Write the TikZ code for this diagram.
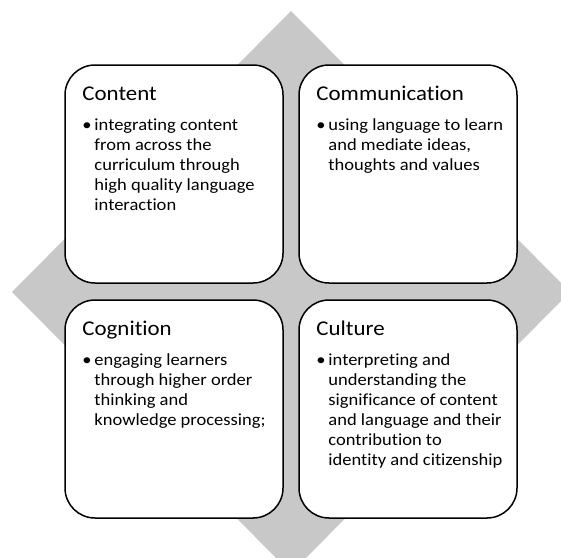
\documentclass[tikz,border=0pt]{standalone}
\usepackage{fontspec}
\setmainfont{Carlito}[FakeStretch=1.09, RawFeature=-liga]
\definecolor{diamondgrey}{RGB}{200,200,200}
\tikzset{
  card/.style={draw=black, line width=1.5pt, fill=white, rounded corners=30pt,
    minimum width=218pt, minimum height=218pt, inner sep=0pt},
  cardtitle/.style={anchor=base west, inner sep=0pt, font=\fontsize{21}{24}\selectfont},
  % multi-line text: base is the baseline of its last line (20pt per line)
  cardtext/.style={anchor=base west, inner sep=0pt, align=left, font=\fontsize{17}{20}\selectfont},
}
\begin{document}
\begin{tikzpicture}[x=1pt, y=-1pt]
\useasboundingbox (0,0) rectangle (561,557);
\begin{scope}
  \clip (0,0) rectangle (561,557);
  \fill[diamondgrey] (291,11) -- (570,292) -- (291,573) -- (12,292) -- cycle;
\end{scope}

%%%%%%%%%%%%%%%%%%%%%%%%%%%%%%%%%%%%%%%%

\node[card] (content) at (174,174) {};
\node[cardtitle] (content-title) at ([shift={(18pt,-36pt)}]content.north west) {Content};
\node[cardtext] (content-dot) at ([shift={(18pt,-66pt)}]content.north west) {\textbullet};
\node[cardtext] (content-text) at ([shift={(30pt,-146pt)}]content.north west)
  {integrating content\\from across the\\curriculum through\\high quality language\\interaction};

\node[card] (communication) at (408,174) {};
\node[cardtitle] (communication-title) at ([shift={(18pt,-36pt)}]communication.north west) {Communication};
\node[cardtext] (communication-dot) at ([shift={(18pt,-66pt)}]communication.north west) {\textbullet};
\node[cardtext] (communication-text) at ([shift={(30pt,-106pt)}]communication.north west)
  {using language to learn\\and mediate ideas,\\thoughts and values};

%%%%%%%%%%%%%%%%%%%%%%%%%%%%%%%%%%%%%%%%

\node[card] (cognition) at (174,409) {};
\node[cardtitle] (cognition-title) at ([shift={(18pt,-36pt)}]cognition.north west) {Cognition};
\node[cardtext] (cognition-dot) at ([shift={(18pt,-66pt)}]cognition.north west) {\textbullet};
\node[cardtext] (cognition-text) at ([shift={(30pt,-126pt)}]cognition.north west)
  {engaging learners\\through higher order\\thinking and\\knowledge processing;};

\node[card] (culture) at (408,409) {};
\node[cardtitle] (culture-title) at ([shift={(18pt,-36pt)}]culture.north west) {Culture};
\node[cardtext] (culture-dot) at ([shift={(18pt,-66pt)}]culture.north west) {\textbullet};
\node[cardtext] (culture-text) at ([shift={(30pt,-166pt)}]culture.north west)
  {interpreting and\\understanding the\\significance of content\\and language and their\\contribution to\\identity and citizenship};

\end{tikzpicture}
\end{document}
